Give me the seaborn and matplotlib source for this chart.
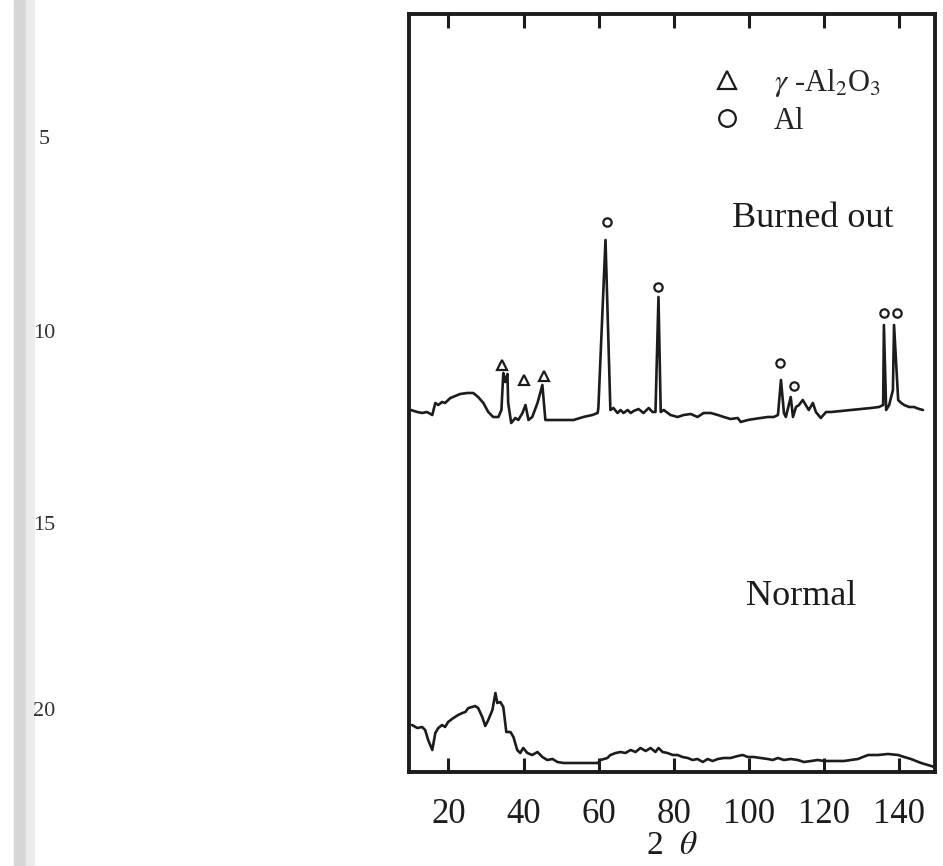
import matplotlib
matplotlib.use("Agg")
import matplotlib.pyplot as plt
from matplotlib.patches import Rectangle
import seaborn as sns
import pandas as pd

# XRD patterns, intensity in arbitrary units
# (the burned out pattern already carries its vertical offset)
normal_2theta = [10.3, 11.7, 13.0, 13.8, 14.6, 15.7, 16.5, 17.3, 18.3, 19.1,
                 19.9, 21.3, 22.6, 23.7, 24.5, 25.3, 26.3, 27.1, 27.9, 29.0,
                 29.8, 30.6, 31.7, 32.5, 33.0, 33.8, 34.6, 35.4, 36.5, 37.3,
                 38.3, 39.1, 39.9, 41.0, 42.3, 43.7, 45.0, 46.3, 47.7, 49.0,
                 50.6, 53.3, 57.0, 59.7, 60.5, 62.3, 63.1, 64.5, 65.8, 67.1,
                 68.5, 69.8, 71.1, 72.5, 73.8, 75.1, 75.9, 77.0, 78.3, 79.7,
                 81.0, 82.3, 83.7, 85.0, 86.3, 87.7, 89.0, 90.3, 91.7, 93.3,
                 95.1, 97.0, 98.3, 99.7, 101.3, 103.1, 105.0, 106.3, 107.7, 109.3,
                 111.1, 113.0, 114.6, 116.5, 118.3, 119.9, 121.8, 123.7, 125.3, 127.1,
                 129.0, 130.3, 131.7, 134.3, 137.0, 139.7, 141.3, 143.1, 145.8, 148.5,
                 149.3]
normal_int = [47, 44, 45, 42, 32, 22, 39, 44, 47, 45,
              50, 54, 57, 59, 60, 64, 65, 66, 64, 55,
              46, 52, 62, 79, 69, 70, 65, 40, 40, 35,
              22, 19, 24, 19, 17, 20, 15, 12, 13, 10,
              9, 9, 9, 9, 12, 14, 17, 19, 20, 19,
              22, 20, 24, 21, 24, 20, 24, 20, 19, 17,
              17, 15, 14, 12, 13, 10, 13, 11, 13, 14,
              14, 16, 17, 15, 15, 14, 13, 12, 14, 12,
              13, 12, 10, 11, 12, 11, 11, 11, 11, 12,
              13, 15, 17, 17, 18, 17, 15, 13, 9, 6,
              5]

burned_2theta = [10.0, 11.7, 13.0, 14.3, 15.7, 16.5, 17.3, 18.3, 19.1, 20.5,
                 21.8, 23.1, 25.0, 26.6, 27.9, 29.3, 30.6, 31.9, 33.3, 34.1,
                 34.6, 35.1, 35.7, 35.9, 36.7, 37.8, 38.6, 39.7, 40.5, 41.3,
                 42.3, 43.7, 45.0, 45.8, 47.1, 49.8, 53.3, 55.9, 58.3, 59.7,
                 59.9, 61.8, 63.1, 63.9, 65.0, 65.8, 66.6, 67.7, 68.5, 69.3,
                 70.6, 71.9, 73.3, 74.3, 75.1, 75.9, 76.5, 77.3, 79.1, 81.0,
                 82.6, 84.5, 86.3, 87.9, 89.8, 91.7, 93.3, 95.1, 97.0, 97.8,
                 99.7, 101.3, 103.1, 105.0, 106.6, 107.7, 108.5, 109.3, 109.8, 111.1,
                 111.7, 112.5, 113.3, 114.3, 115.1, 115.9, 117.0, 117.8, 119.1, 120.5,
                 121.8, 124.5, 127.1, 129.8, 132.5, 134.6, 135.7, 135.9, 136.5, 137.3,
                 138.3, 138.6, 139.7, 140.5, 141.3, 142.6, 143.9, 145.3, 146.3]
burned_int = [362, 360, 359, 360, 357, 369, 367, 370, 369, 374,
              376, 378, 379, 379, 375, 369, 360, 355, 355, 362,
              399, 390, 398, 369, 349, 354, 352, 359, 367, 352,
              355, 369, 387, 352, 352, 352, 352, 355, 357, 359,
              364, 532, 362, 364, 359, 362, 359, 362, 359, 361,
              363, 359, 364, 360, 360, 475, 360, 362, 357, 355,
              357, 358, 355, 359, 359, 357, 355, 353, 354, 350,
              352, 353, 354, 355, 355, 357, 392, 359, 355, 375,
              355, 365, 367, 372, 367, 362, 369, 360, 354, 360,
              360, 361, 362, 363, 364, 365, 367, 447, 362, 367,
              382, 447, 372, 369, 367, 365, 365, 363, 362]

# phase markers placed above the assigned peaks
al2o3_2theta = [34.3, 40.2, 45.3]
al2o3_int = [407, 392, 396]
al_2theta = [62.1, 75.9, 108.2, 112.0, 135.9, 139.4]
al_int = [550, 485, 409, 386, 459, 459]

xticks = [20, 40, 60, 80, 100, 120, 140]
line_numbers = ["5", "10", "15", "20"]
line_number_y = [140, 333, 525, 712]   # px from top of the scanned page

ink = "#1c1c1c"

sns.set_style("white")
plt.rcParams["font.family"] = ["Liberation Serif", "DejaVu Serif"]
plt.rcParams["mathtext.fontset"] = "stix"

fig = plt.figure(figsize=(9.43, 8.66), dpi=100)
W, H = 943, 866

# grey gutter of the scanned page
fig.patches.append(Rectangle((14 / W, 0), 12 / W, 1, transform=fig.transFigure,
                             color="#d6d6d6", zorder=0))
fig.patches.append(Rectangle((26 / W, 0), 8 / W, 1, transform=fig.transFigure,
                             color="#ececec", zorder=0))
for s, y in zip(line_numbers, line_number_y):
    fig.text(44 / W, 1 - y / H, s, ha="center", va="center", fontsize=16, color="#333333")

ax = fig.add_axes([409 / W, 94 / H, 526 / W, 758 / H])

df_n = pd.DataFrame({"two_theta": normal_2theta, "intensity": normal_int})
df_b = pd.DataFrame({"two_theta": burned_2theta, "intensity": burned_int})
sns.lineplot(data=df_n, x="two_theta", y="intensity", ax=ax, color=ink,
             linewidth=1.9, estimator=None, sort=False)
sns.lineplot(data=df_b, x="two_theta", y="intensity", ax=ax, color=ink,
             linewidth=1.9, estimator=None, sort=False)

ax.plot(al2o3_2theta, al2o3_int, ls="none", marker="^", ms=6.5, mfc="none",
        mec=ink, mew=1.6, label=r"$\gamma$ -Al$_{2}$O$_{3}$")
ax.plot(al_2theta, al_int, ls="none", marker="o", ms=6, mfc="none",
        mec=ink, mew=1.6, label="Al")

ax.legend(loc="upper left", bbox_to_anchor=(0.575, 0.93), frameon=False,
          fontsize=22, markerscale=2.0, handlelength=1.0, handletextpad=1.05,
          labelspacing=0.25, borderpad=0, borderaxespad=0)

ax.text(117.1, 545, "Burned out", ha="center", va="baseline", fontsize=26, color=ink)
ax.text(113.8, 167, "Normal", ha="center", va="baseline", fontsize=26, color=ink)

ax.set_xlim(9.5, 149.5)
ax.set_ylim(0, 758)
ax.set_xticks(xticks)
ax.set_yticks([])
ax.tick_params(axis="x", direction="in", length=10, width=2.2, top=True, bottom=True,
               labelsize=25, pad=19, color=ink, labelcolor=ink)
for sp in ax.spines.values():
    sp.set_visible(True)
    sp.set_linewidth(2.8)
    sp.set_color(ink)

ax.set_xlabel(r"2  $\theta$", fontsize=24, labelpad=-1, color=ink)
ax.set_ylabel("")

fig.savefig("out.png", dpi=100)
